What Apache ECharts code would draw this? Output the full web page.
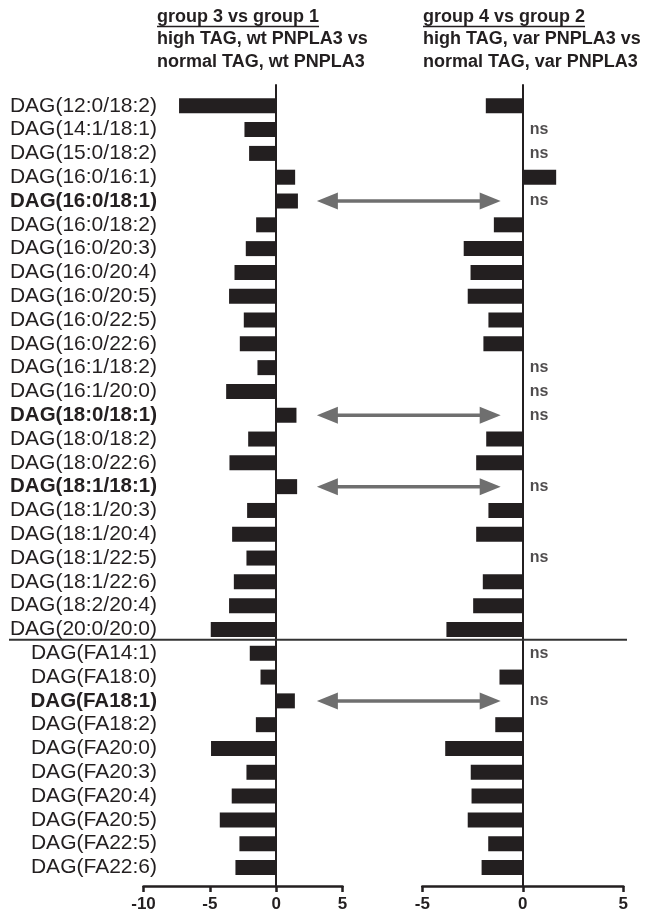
<!DOCTYPE html>
<html><head><meta charset="utf-8">
<script src="https://cdn.jsdelivr.net/npm/echarts@6/dist/echarts.min.js"></script>
<style>html,body{margin:0;padding:0;background:#fff}#c{width:666px;height:914px}</style>
</head><body><div id="c"></div>
<script>
const categories = [
  'DAG(12:0/18:2)','DAG(14:1/18:1)','DAG(15:0/18:2)','DAG(16:0/16:1)','DAG(16:0/18:1)',
  'DAG(16:0/18:2)','DAG(16:0/20:3)','DAG(16:0/20:4)','DAG(16:0/20:5)','DAG(16:0/22:5)',
  'DAG(16:0/22:6)','DAG(16:1/18:2)','DAG(16:1/20:0)','DAG(18:0/18:1)','DAG(18:0/18:2)',
  'DAG(18:0/22:6)','DAG(18:1/18:1)','DAG(18:1/20:3)','DAG(18:1/20:4)','DAG(18:1/22:5)',
  'DAG(18:1/22:6)','DAG(18:2/20:4)','DAG(20:0/20:0)','DAG(FA14:1)','DAG(FA18:0)',
  'DAG(FA18:1)','DAG(FA18:2)','DAG(FA20:0)','DAG(FA20:3)','DAG(FA20:4)',
  'DAG(FA20:5)','DAG(FA22:5)','DAG(FA22:6)'
];
const boldCategories = ['DAG(16:0/18:1)','DAG(18:0/18:1)','DAG(18:1/18:1)','DAG(FA18:1)'];
const group3vs1 = [-7.32,-2.39,-2.04,1.43,1.64,-1.51,-2.29,-3.14,-3.55,-2.44,-2.74,-1.41,-3.77,1.53,-2.11,-3.52,1.58,-2.19,-3.32,-2.24,-3.19,-3.55,-4.93,-1.99,-1.18,1.41,-1.53,-4.91,-2.24,-3.35,-4.25,-2.77,-3.07];
const group4vs2 = [-1.84,null,null,1.66,null,-1.44,-2.94,-2.60,-2.74,-1.71,-1.96,null,null,null,-1.82,-2.32,null,-1.71,-2.32,null,-1.99,-2.47,-3.80,null,-1.16,null,-1.37,-3.86,-2.59,-2.55,-2.74,-1.72,-2.05];
const group4vs2Notes = ['','ns','ns','','ns','','','','','','','ns','ns','ns','','','ns','','','ns','','','','ns','','ns','','','','','','',''];
const leftTicks = [-10,-5,0,5];
const rightTicks = [-5,0,5];
const leftTitle = ['group 3 vs group 1','high TAG, wt PNPLA3 vs','normal TAG, wt PNPLA3'];
const rightTitle = ['group 4 vs group 2','high TAG, var PNPLA3 vs','normal TAG, var PNPLA3'];
const arrowCategories = ['DAG(16:0/18:1)','DAG(18:0/18:1)','DAG(18:1/18:1)','DAG(FA18:1)'];
const arrowLeftEnd = 3.07;   // value in left panel
const arrowRightEnd = -1.1;  // value in right panel
const separatorAfter = 'DAG(20:0/20:0)';

const FONT = '"Liberation Sans", Arial, Helvetica, sans-serif';
const INK = '#231f20';
const chart = echarts.init(document.getElementById('c'), null, {renderer:'canvas'});

const L = {left:143.5, width:199}, R = {left:422.3, width:201};
const barTop = 93.9, barH = 785.5, frameTop = 85, frameH = 801;

function frameX(gi, ticks){
  return {gridIndex:gi, type:'value', min:ticks[0], max:ticks[ticks.length-1], interval:5,
    axisLine:{show:true, onZero:false, lineStyle:{color:INK, width:2.5}},
    axisTick:{show:true, length:6, inside:false, lineStyle:{color:INK, width:2.5}},
    axisLabel:{show:true, margin:10, color:INK, fontFamily:FONT, fontSize:17, fontWeight:'bold'},
    splitLine:{show:false}};
}
function hiddenX(gi, ticks){
  return {gridIndex:gi, type:'value', min:ticks[0], max:ticks[ticks.length-1], interval:5, show:false, splitLine:{show:false}};
}
function frameY(gi){
  return {gridIndex:gi, type:'value', min:0, max:1, interval:1,
    axisLine:{show:true, onZero:true, lineStyle:{color:INK, width:2}},
    axisTick:{show:false}, axisLabel:{show:false}, splitLine:{show:false}};
}

const nsData = [];
group4vs2Notes.forEach((n,i)=>{ if(n) nsData.push({value:[0, categories[i]], note:n}); });

const option = {
  animation:false,
  backgroundColor:'#fff',
  grid:[
    {left:L.left, width:L.width, top:barTop, height:barH},
    {left:R.left, width:R.width, top:barTop, height:barH},
    {left:L.left, width:L.width, top:frameTop, height:frameH},
    {left:R.left, width:R.width, top:frameTop, height:frameH}
  ],
  xAxis:[hiddenX(0,leftTicks), hiddenX(1,rightTicks), frameX(2,leftTicks), frameX(3,rightTicks)],
  yAxis:[
    {gridIndex:0, type:'category', data:categories, inverse:true, position:'left',
     axisLine:{show:false, onZero:false}, axisTick:{show:false}, splitLine:{show:false},
     axisLabel:{show:true, interval:0, margin:-13.5, color:INK, fontFamily:FONT, fontSize:21,
       formatter:v => boldCategories.includes(v) ? '{b|'+v+'}' : v,
       rich:{b:{fontWeight:'bold', fontSize:20.5, fontFamily:FONT, color:INK}}}},
    {gridIndex:1, type:'category', data:categories, inverse:true,
     axisLine:{show:false, onZero:false}, axisTick:{show:false}, axisLabel:{show:false}, splitLine:{show:false}},
    frameY(2), frameY(3)
  ],
  series:[
    {type:'bar', xAxisIndex:0, yAxisIndex:0, data:group3vs1, barWidth:15, itemStyle:{color:INK}},
    {type:'bar', xAxisIndex:1, yAxisIndex:1, data:group4vs2, barWidth:15, itemStyle:{color:INK}},
    {type:'scatter', xAxisIndex:1, yAxisIndex:1, data:nsData, symbolSize:0, silent:true,
     label:{show:true, position:'right', distance:7, formatter:p=>p.data.note, color:INK,
       fontFamily:FONT, fontSize:16, fontWeight:'bold'}}
  ]
};
chart.setOption(option);

// annotations
const g = [];
const ARROW = '#6f6f6f';
arrowCategories.forEach(c=>{
  const p1 = chart.convertToPixel({xAxisIndex:0, yAxisIndex:0}, [arrowLeftEnd, c]);
  const p2 = chart.convertToPixel({xAxisIndex:1, yAxisIndex:1}, [arrowRightEnd, c]);
  const y = p1[1], x1 = p1[0], x2 = p2[0], hl = 21, hw = 8.5;
  g.push({type:'line', shape:{x1:x1+hl-2, y1:y, x2:x2-hl+2, y2:y}, style:{stroke:ARROW, lineWidth:3.5}, z:5});
  g.push({type:'polygon', shape:{points:[[x1,y],[x1+hl,y-hw],[x1+hl,y+hw]]}, style:{fill:ARROW}, z:5});
  g.push({type:'polygon', shape:{points:[[x2,y],[x2-hl,y-hw],[x2-hl,y+hw]]}, style:{fill:ARROW}, z:5});
});
const si = categories.indexOf(separatorAfter);
const ya = chart.convertToPixel({yAxisIndex:0}, categories[si]);
const yb = chart.convertToPixel({yAxisIndex:0}, categories[si+1]);
const sy = (ya + yb)/2 - 1.5;
g.push({type:'line', shape:{x1:9, y1:sy, x2:627, y2:sy}, style:{stroke:'#333', lineWidth:2}, z:4});

const TFONT = 'bold 18px ' + FONT;
const ctx = document.createElement('canvas').getContext('2d');
ctx.font = TFONT;
function titleBlock(lines, x){
  lines.forEach((t,i)=>{
    g.push({type:'text', x:x, y:17 + i*22.5, style:{text:t, font:TFONT, fill:INK, textAlign:'left', textVerticalAlign:'middle'}});
  });
  const w = ctx.measureText(lines[0]).width;
  g.push({type:'line', shape:{x1:x, y1:26.5, x2:x+w, y2:26.5}, style:{stroke:INK, lineWidth:1.5}});
}
titleBlock(leftTitle, 157);
titleBlock(rightTitle, 423);
chart.setOption({graphic:g});
</script>
</body></html>
